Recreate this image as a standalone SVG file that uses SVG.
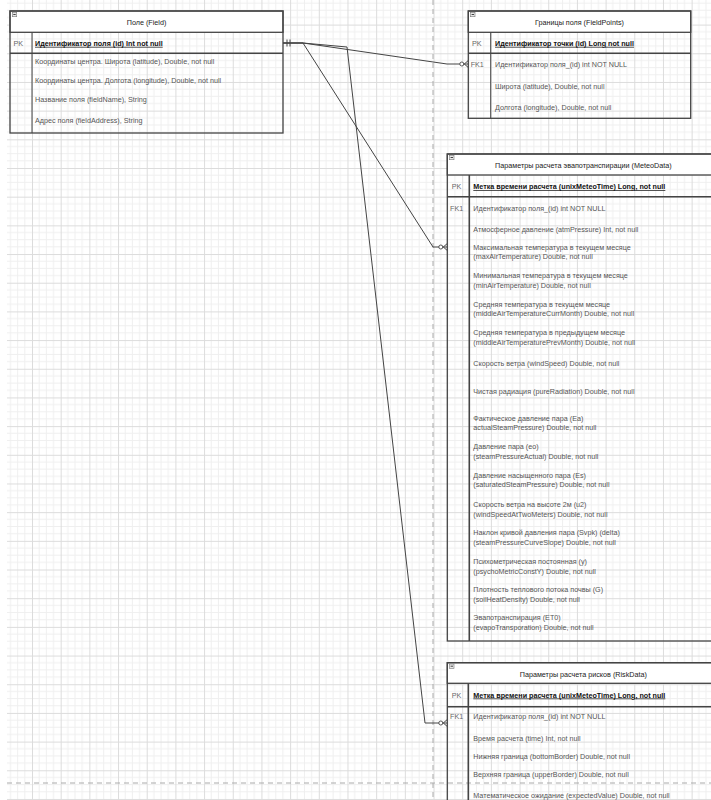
<svg xmlns="http://www.w3.org/2000/svg" width="711" height="800" viewBox="0 0 711 800">
<defs>
<pattern id="grid" patternUnits="userSpaceOnUse" x="3.32" y="24.6" width="28.68" height="28.68">
<path d="M7.17 0V28.68M14.34 0V28.68M21.51 0V28.68M0 7.17H28.68M0 14.34H28.68M0 21.51H28.68" stroke="#efefef" stroke-width="1" fill="none"/>
<path d="M0.5 0V28.68M0 0.5H28.68" stroke="#dcdcdc" stroke-width="1" fill="none"/>
</pattern>
<style>
text{font-family:"Liberation Sans",Arial,sans-serif;font-size:7.2px}
.t{fill:#222;text-anchor:middle}
.pk{fill:#111;font-weight:bold;text-decoration:underline}
.f{fill:#555}
.k{fill:#666}
.box{fill:none;stroke:#444;stroke-width:1.3}
.hd{fill:#fff;stroke:#444;stroke-width:1.3}
.ln{stroke:#444;stroke-width:1;fill:none}
.ln2{stroke:#444;stroke-width:1.6;fill:none}
.ic{fill:#e8e8e8;stroke:#777;stroke-width:0.6}
.con{stroke:#444;stroke-width:1;fill:none}
.cir{fill:#fff;stroke:#444;stroke-width:0.9}
.pg{stroke:#aaa;stroke-width:1;stroke-dasharray:5 4;fill:none}
</style>
</defs>
<rect x="0" y="0" width="711" height="800" fill="#fff"/>
<rect x="7" y="0" width="704" height="800" fill="url(#grid)"/>
<path class="pg" d="M433 0V800M7 783H711"/>

<g id="field">
<rect class="hd" x="10" y="11" width="273" height="21.3"/>
<rect class="box" x="10" y="11" width="273" height="122"/>
<path class="ln2" d="M10 53.3H283"/>
<path class="ln" d="M32 32.3V133"/>
<rect class="ic" x="12.3" y="12.3" width="4.4" height="4.4"/><path class="ln" d="M13.3 14.5H15.7" stroke-width="0.8"/>
<text class="t" x="146.5" y="24.8">Поле (Field)</text>
<text class="k" x="13.5" y="45.8">PK</text>
<text class="pk" x="35" y="45.8">Идентификатор поля  (id) Int not null</text>
<text class="f" x="35" y="64.2">Координаты центра. Широта (latitude), Double, not null</text>
<text class="f" x="35" y="82.5">Координаты центра. Долгота (longitude), Double, not null</text>
<text class="f" x="35" y="101.8">Название поля (fieldName), String</text>
<text class="f" x="35" y="122.5">Адрес поля (fieldAddress), String</text>
</g>

<g id="fieldpoints">
<rect class="hd" x="468.3" y="11" width="222.4" height="21.3"/>
<rect class="box" x="468.3" y="11" width="222.4" height="107.3"/>
<path class="ln2" d="M468.3 53.3H690.7"/>
<path class="ln" d="M490.7 32.3V118.3"/>
<rect class="ic" x="470.6" y="12.3" width="4.4" height="4.4"/><path class="ln" d="M471.6 14.5H474" stroke-width="0.8"/>
<text class="t" x="579.5" y="24.8">Границы поля (FieldPoints)</text>
<text class="k" x="472" y="45.8">PK</text>
<text class="pk" x="495" y="45.8">Идентификатор точки (id) Long not null</text>
<text class="k" x="470.7" y="66.5">FK1</text>
<text class="f" x="495" y="66.5">Идентификатор поля_(id) int NOT NULL</text>
<text class="f" x="495" y="88.5">Широта (latitude), Double, not null</text>
<text class="f" x="495" y="109.8">Долгота (longitude), Double, not null</text>
</g>

<g id="meteodata">
<rect class="hd" x="447.3" y="154" width="272" height="21"/>
<rect class="box" x="447.3" y="154" width="272" height="487"/>
<path class="ln2" d="M447.3 196.7H719.3"/>
<path class="ln2" d="M469.3 175V641"/>
<rect class="ic" x="449.6" y="155.3" width="4.4" height="4.4"/><path class="ln" d="M450.6 157.5H453" stroke-width="0.8"/>
<text class="t" x="583.3" y="167.5">Параметры расчета эвапотранспирации (MeteoData)</text>
<text class="k" x="451.7" y="189.2">PK</text>
<text class="pk" x="473.3" y="189.2">Метка времени расчета (unixMeteoTime) Long, not null</text>
<text class="k" x="450" y="210.8">FK1</text>
<text class="f" x="473.3" y="210.8">Идентификатор поля_(id) int NOT NULL</text>
<text class="f" x="473.3" y="231.8">Атмосферное давление (atmPressure) Int, not null</text>
<text class="f" x="473.3" y="249.8">Максимальная температура в текущем месяце</text>
<text class="f" x="473.3" y="259.2">(maxAirTemperature) Double, not null</text>
<text class="f" x="473.3" y="278.2">Минимальная температура в текущем месяце</text>
<text class="f" x="473.3" y="287.8">(minAirTemperature) Double, not null</text>
<text class="f" x="473.3" y="306.8">Средняя температура в текущем месяце</text>
<text class="f" x="473.3" y="316.2">(middleAirTemperatureCurrMonth) Double, not null</text>
<text class="f" x="473.3" y="335.2">Средняя температура в предыдущем месяце</text>
<text class="f" x="473.3" y="344.8">(middleAirTemperaturePrevMonth) Double, not null</text>
<text class="f" x="473.3" y="365.8">Скорость ветра (windSpeed) Double, not null</text>
<text class="f" x="473.3" y="394.2">Чистая радиация (pureRadiation) Double, not null</text>
<text class="f" x="473.3" y="420.8">Фактическое давление пара (Ea)</text>
<text class="f" x="473.3" y="430.2">actualSteamPressure) Double, not null</text>
<text class="f" x="473.3" y="449.2">Давление пара (eo)</text>
<text class="f" x="473.3" y="458.5">(steamPressureActual) Double, not null</text>
<text class="f" x="473.3" y="477.5">Давление насыщенного пара (Es)</text>
<text class="f" x="473.3" y="486.8">(saturatedSteamPressure) Double, not null</text>
<text class="f" x="473.3" y="506.8">Скорость ветра на высоте 2м (u2)</text>
<text class="f" x="473.3" y="516.8">(windSpeedAtTwoMeters) Double, not null</text>
<text class="f" x="473.3" y="535.2">Наклон кривой давления пара (Svpk) (delta)</text>
<text class="f" x="473.3" y="545.2">(steamPressureCurveSlope) Double, not null</text>
<text class="f" x="473.3" y="563.5">Психометрическая постоянная (y)</text>
<text class="f" x="473.3" y="573.5">(psychoMetricConstY) Double, not null</text>
<text class="f" x="473.3" y="591.8">Плотность теплового потока почвы (G)</text>
<text class="f" x="473.3" y="601.8">(soilHeatDensity) Double, not null</text>
<text class="f" x="473.3" y="620.2">Эвапотранспирация (ET0)</text>
<text class="f" x="473.3" y="630.2">(evapoTransporation) Double, not null</text>
</g>

<g id="riskdata">
<rect class="hd" x="447.3" y="662.7" width="272" height="20.6"/>
<rect class="box" x="447.3" y="662.7" width="272" height="200"/>
<path class="ln2" d="M447.3 706.7H719.3"/>
<path class="ln2" d="M468.3 683.3V800"/>
<rect class="ic" x="449.6" y="664" width="4.4" height="4.4"/><path class="ln" d="M450.6 666.2H453" stroke-width="0.8"/>
<text class="t" x="583.3" y="676.5">Параметры расчета рисков (RiskData)</text>
<text class="k" x="451.7" y="697.5">PK</text>
<text class="pk" x="473.3" y="697.5">Метка времени расчета (unixMeteoTime) Long, not null</text>
<text class="k" x="450" y="718.5">FK1</text>
<text class="f" x="473.3" y="718.5">Идентификатор поля_(id) int NOT NULL</text>
<text class="f" x="473.3" y="740.8">Время расчета (time) Int, not null</text>
<text class="f" x="473.3" y="759.2">Нижняя граница (bottomBorder) Double, not null</text>
<text class="f" x="473.3" y="776.5">Верхняя граница (upperBorder) Double, not null</text>
<text class="f" x="473.3" y="798.2">Математическое ожидание (expectedValue) Double, not null</text>
</g>

<g id="connectors">
<path class="con" d="M283 43H303L447 64H468.3"/>
<path class="con" d="M283 43H303L433 247H447.3"/>
<path class="con" d="M283 43H303L347 47L425 723H447.3"/>
<path class="con" d="M287 39.5V46.5M290 39.5V46.5"/>
<path class="con" d="M464.3 64L468.3 60.5M464.3 64L468.3 67.5"/>
<circle class="cir" cx="461.8" cy="64" r="2"/>
<path class="con" d="M443.3 247L447.3 243.5M443.3 247L447.3 250.5"/>
<circle class="cir" cx="440.8" cy="247" r="2"/>
<path class="con" d="M443.3 723L447.3 719.5M443.3 723L447.3 726.5"/>
<circle class="cir" cx="440.8" cy="723" r="2"/>
</g>
</svg>
